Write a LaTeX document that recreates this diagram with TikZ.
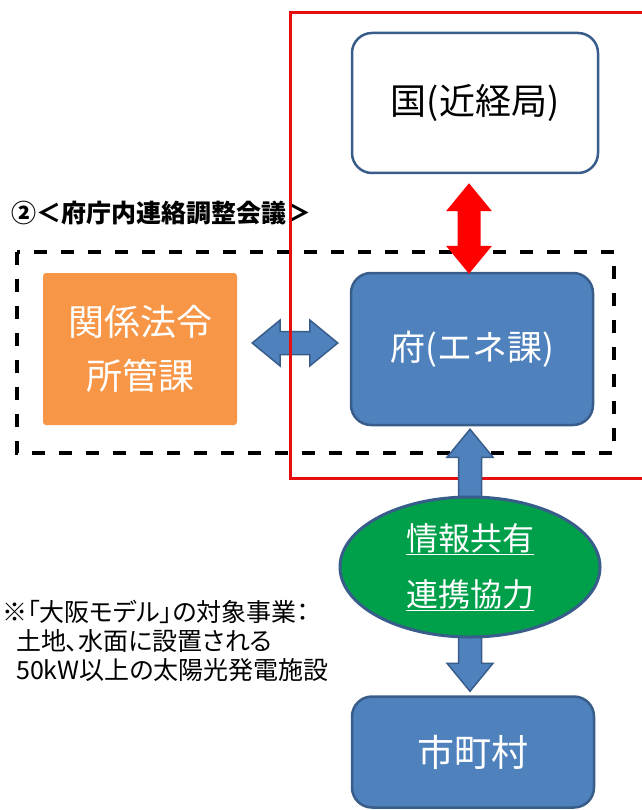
\documentclass[tikz,border=0pt]{standalone}
\usepackage{fontspec}
\setmainfont{Noto Sans CJK JP}
\usetikzlibrary{positioning}
\usetikzlibrary{calc}
\usetikzlibrary{shapes.geometric}
\definecolor{myblue}{RGB}{79,129,189}
\definecolor{mydarkblue}{RGB}{56,93,138}
\definecolor{myorange}{RGB}{247,150,70}
\definecolor{mygreen}{RGB}{0,160,75}
\definecolor{myred}{RGB}{230,15,15}
\tikzstyle{mybox}=[draw=mydarkblue,fill=#1,line width=2.5,rounded corners=20,
                   align=center,inner sep=0pt,minimum width=242]
\tikzstyle{myframe}=[line width=4,dash pattern=on 13pt off 14pt]
\tikzstyle{myblock}=[fill=#1,draw=mydarkblue,line width=1.5,line join=miter]
% block arrows (head half width, shaft half width, head length)
\def\hw{23pt}
\def\sw{11.5pt}
\def\hl{28pt}
\def\vblock[#1]#2#3{
  \path[#1] let \p1=(#2), \p2=(#3) in
    (\x1,\y1) -- (\x1+\hw,\y1-\hl) -- (\x1+\sw,\y1-\hl) -- (\x1+\sw,\y2+\hl)
    -- (\x1+\hw,\y2+\hl) -- (\x1,\y2) -- (\x1-\hw,\y2+\hl) -- (\x1-\sw,\y2+\hl)
    -- (\x1-\sw,\y1-\hl) -- (\x1-\hw,\y1-\hl) -- cycle
}
\def\hblock[#1]#2#3{
  \path[#1] let \p1=(#2), \p2=(#3) in
    (\x1,\y1) -- (\x1+\hl,\y1+\hw) -- (\x1+\hl,\y1+\sw) -- (\x2-\hl,\y1+\sw)
    -- (\x2-\hl,\y1+\hw) -- (\x2,\y1) -- (\x2-\hl,\y1-\hw) -- (\x2-\hl,\y1-\sw)
    -- (\x1+\hl,\y1-\sw) -- (\x1+\hl,\y1-\hw) -- cycle
}

\begin{document}
\begin{tikzpicture}[x=1pt,y=-1pt]
  \useasboundingbox (0,0) rectangle (641,810);

  % meeting frame
  \draw[myframe] (17,252) rectangle (614,453);
  \node[anchor=west,font=\bfseries\fontsize{25}{28}\selectfont] (title) at (8,213)
    {②＜府庁内連絡調整会議＞};

  % boxes
  \node[mybox=white,minimum width=246,minimum height=140,
        font=\fontsize{36}{44}\selectfont] (kuni) at (475,103) {国(近経局)};
  \node[mybox=myblue,minimum height=152,text=white,
        font=\fontsize{35}{44}\selectfont] (fu) at (472,349) {府(エネ課)};
  \node[fill=myorange,rounded corners=3,minimum width=194,minimum height=152,
        align=center,text=white,font=\fontsize{36}{54}\selectfont] (kankei) at (140,349)
    {関係法令\\所管課};
  \node[mybox=myblue,minimum height=111,text=white,
        font=\fontsize{37}{44}\selectfont] (shi) at (473,752) {市町村};

  % ARROWS
  \coordinate (kankei-r) at ($(kankei.east)+(15,-6)$);
  \coordinate (fu-l) at ($(fu.west)+(-12,0)$);
  \coordinate (kuni-b) at ($(kuni.south)+(-6,9)$);
  \coordinate (fu-t) at ($(fu.north)+(0,2)$);
  \coordinate (fu-b) at ($(fu.south)+(-2,3)$);
  \coordinate (shi-t) at ($(shi.north)+(0,-4)$);
  \hblock[myblock=myblue]{kankei-r}{fu-l};
  \draw[myred,line width=3] (290,13) rectangle (650,478);
  \vblock[fill=red]{kuni-b}{fu-t};
  \vblock[myblock=myblue]{fu-b}{shi-t};

  % ellipse
  \node[ellipse,draw=mydarkblue,line width=3,fill=mygreen,minimum width=260,
        minimum height=140,inner sep=0pt,align=center,text=white,
        font=\fontsize{32}{56}\selectfont] (kyoryoku) at (470,567)
    {\underline{情報共有}\\\underline{連携協力}};

  % LABELS
  \node[anchor=north west,align=left,inner sep=0pt,
        font=\fontsize{25}{29}\selectfont\addfontfeature{RawFeature=+palt}] (note) at (2,600)
    {※「大阪モデル」の対象事業：\\
     \hspace*{14pt}土地、水面に設置される\\
     \hspace*{14pt}50kW以上の太陽光発電施設};
\end{tikzpicture}
\end{document}
